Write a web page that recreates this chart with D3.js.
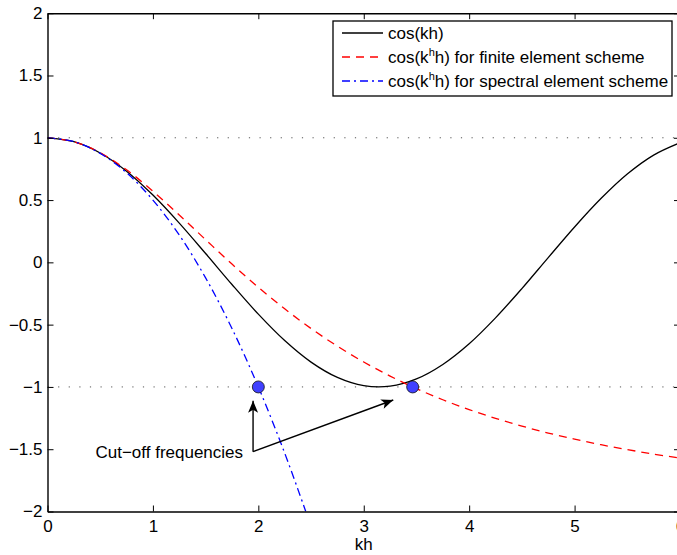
<!DOCTYPE html>
<html>
<head>
<meta charset="utf-8">
<script src="https://d3js.org/d3.v7.min.js"></script>
<style>
  body { margin: 0; background: #fff; }
  text { font-family: "Liberation Sans", Arial, Helvetica, sans-serif; }
</style>
</head>
<body>
<div id="chart"></div>
<script>
// values
var khGrid = [0, 0.25, 0.5, 0.75, 1, 1.25, 1.5, 1.75, 2, 2.25, 2.5, 2.75, 3,
              3.25, 3.5, 3.75, 4, 4.25, 4.5, 4.75, 5, 5.25, 5.5, 5.75, 6];
var cosExact = [1, 0.969, 0.878, 0.732, 0.540, 0.315, 0.071, -0.178, -0.416, -0.628,
                -0.801, -0.924, -0.990, -0.994, -0.936, -0.820, -0.654, -0.446, -0.211,
                0.038, 0.284, 0.512, 0.709, 0.861, 0.960];
var cosFE = [1, 0.969, 0.880, 0.743, 0.571, 0.380, 0.182, -0.014, -0.200, -0.373,
             -0.531, -0.673, -0.800, -0.913, -1.014, -1.103, -1.182, -1.252, -1.314,
             -1.370, -1.419, -1.464, -1.503, -1.539, -1.571];
var seGrid = [0, 0.25, 0.5, 0.75, 1, 1.25, 1.5, 1.75, 2, 2.25, 2.45];
var cosSE = [1, 0.969, 0.875, 0.719, 0.5, 0.219, -0.125, -0.531, -1, -1.531, -2.0];

var cutoffKh = [2.0, 3.464];
var cutoffVal = [-1, -1];
var refLevels = [1, -1];

var xTicks = [0, 1, 2, 3, 4, 5, 6];
var yTicks = [-2, -1.5, -1, -0.5, 0, 0.5, 1, 1.5, 2];

var legendLabels = ["cos(kh)", "cos(k|h|h) for finite element scheme", "cos(k|h|h) for spectral element scheme"];

// annotation: text anchor and arrow targets (data units)
var noteStart = [1.95, -1.52];
var noteTips = [[1.95, -1.11], [3.28, -1.105]];

var W = 677, H = 555;
var x = d3.scaleLinear().domain([0, 6]).range([47.5, 680]);
var y = d3.scaleLinear().domain([-2, 2]).range([511.5, 13.2]);

var svg = d3.select("#chart").append("svg")
  .attr("width", W).attr("height", H);

var defs = svg.append("defs");
defs.append("clipPath").attr("id", "plotclip")
  .append("rect")
  .attr("x", x(0)).attr("y", y(2))
  .attr("width", x(6) - x(0)).attr("height", y(-2) - y(2));
defs.append("marker")
  .attr("id", "arrowhead")
  .attr("markerUnits", "userSpaceOnUse")
  .attr("viewBox", "-1 -6 14 12")
  .attr("refX", 12).attr("refY", 0)
  .attr("markerWidth", 14).attr("markerHeight", 12)
  .attr("orient", "auto")
  .append("path")
  .attr("d", "M0,-5 L12,0 L0,5 L3,0 Z")
  .attr("fill", "#000");

var plot = svg.append("g").attr("clip-path", "url(#plotclip)");

// dotted reference lines
plot.selectAll(".ref")
  .data(refLevels)
  .enter().append("line")
  .attr("x1", x(0)).attr("x2", x(6))
  .attr("y1", function(d) { return y(d); })
  .attr("y2", function(d) { return y(d); })
  .attr("stroke", "#555")
  .attr("stroke-width", 1)
  .attr("stroke-dasharray", "1.2,9.4");

var line = d3.line()
  .x(function(d) { return x(d[0]); })
  .y(function(d) { return y(d[1]); })
  .curve(d3.curveCatmullRom.alpha(0.5));

var series = [
  { pts: d3.zip(khGrid, cosExact), color: "#000", dash: null },
  { pts: d3.zip(khGrid, cosFE), color: "#ff0000", dash: "8,6" },
  { pts: d3.zip(seGrid, cosSE), color: "#0000ff", dash: "8,4,2,4" }
];

plot.selectAll(".curve")
  .data(series)
  .enter().append("path")
  .attr("d", function(d) { return line(d.pts); })
  .attr("fill", "none")
  .attr("stroke", function(d) { return d.color; })
  .attr("stroke-width", 1.3)
  .attr("stroke-dasharray", function(d) { return d.dash; });

// cut-off markers
plot.selectAll(".cut")
  .data(d3.zip(cutoffKh, cutoffVal))
  .enter().append("circle")
  .attr("cx", function(d) { return x(d[0]); })
  .attr("cy", function(d) { return y(d[1]); })
  .attr("r", 6)
  .attr("fill", "#4040ff")
  .attr("stroke", "#111")
  .attr("stroke-width", 0.8);

// annotation arrows
svg.selectAll(".arrow")
  .data(noteTips)
  .enter().append("line")
  .attr("x1", x(noteStart[0])).attr("y1", y(noteStart[1]))
  .attr("x2", function(d) { return x(d[0]); })
  .attr("y2", function(d) { return y(d[1]); })
  .attr("stroke", "#000")
  .attr("stroke-width", 1.4)
  .attr("marker-end", "url(#arrowhead)");

svg.append("text")
  .attr("x", x(noteStart[0]) - 10)
  .attr("y", y(noteStart[1]) + 6)
  .attr("text-anchor", "end")
  .style("font-size", "17px")
  .text("Cut\u2212off frequencies");

// axes box with inward ticks on all sides
var fmt = function(d) { return String(d).replace("-", "\u2212"); };
var axB = svg.append("g").attr("transform", "translate(0," + y(-2) + ")")
  .call(d3.axisBottom(x).tickValues(xTicks).tickSizeInner(-6).tickSizeOuter(0).tickPadding(8).tickFormat(fmt));
var axT = svg.append("g").attr("transform", "translate(0," + y(2) + ")")
  .call(d3.axisTop(x).tickValues(xTicks).tickSizeInner(-6).tickSizeOuter(0).tickFormat(""));
var axL = svg.append("g").attr("transform", "translate(" + x(0) + ",0)")
  .call(d3.axisLeft(y).tickValues(yTicks).tickSizeInner(-6).tickSizeOuter(0).tickPadding(5).tickFormat(fmt));
var axR = svg.append("g").attr("transform", "translate(" + x(6) + ",0)")
  .call(d3.axisRight(y).tickValues(yTicks).tickSizeInner(-6).tickSizeOuter(0).tickFormat(""));

[axB, axT, axL, axR].forEach(function(a) {
  a.select(".domain").attr("stroke", "#000").attr("stroke-width", 1.4);
  a.selectAll(".tick line").attr("stroke", "#000").attr("stroke-width", 1);
  a.selectAll("text")
    .style("font-family", "'Liberation Sans', Arial, Helvetica, sans-serif")
    .style("font-size", "17px")
    .attr("fill", "#000");
});

svg.append("text")
  .attr("x", (x(0) + x(6)) / 2)
  .attr("y", 550)
  .attr("text-anchor", "middle")
  .style("font-size", "17px")
  .text("kh");

// legend
var lg = svg.append("g").attr("transform", "translate(333,21)");
lg.append("rect")
  .attr("width", 339).attr("height", 75)
  .attr("fill", "#fff").attr("stroke", "#000").attr("stroke-width", 1.3);

var rows = lg.selectAll(".row")
  .data(series)
  .enter().append("g")
  .attr("transform", function(d, i) { return "translate(0," + (12 + i * 24) + ")"; });

rows.append("line")
  .attr("x1", 9).attr("x2", 50)
  .attr("stroke", function(d) { return d.color; })
  .attr("stroke-width", 1.3)
  .attr("stroke-dasharray", function(d) { return d.dash; });

rows.each(function(d, i) {
  var parts = legendLabels[i].split("|");
  var t = d3.select(this).append("text")
    .attr("x", 55).attr("y", 6)
    .style("font-size", "17px");
  t.append("tspan").text(parts[0]);
  if (parts.length > 1) {
    t.append("tspan").attr("dy", -7).style("font-size", "11px").text(parts[1]);
    t.append("tspan").attr("dy", 7).text(parts[2]);
  }
});
</script>
</body>
</html>
